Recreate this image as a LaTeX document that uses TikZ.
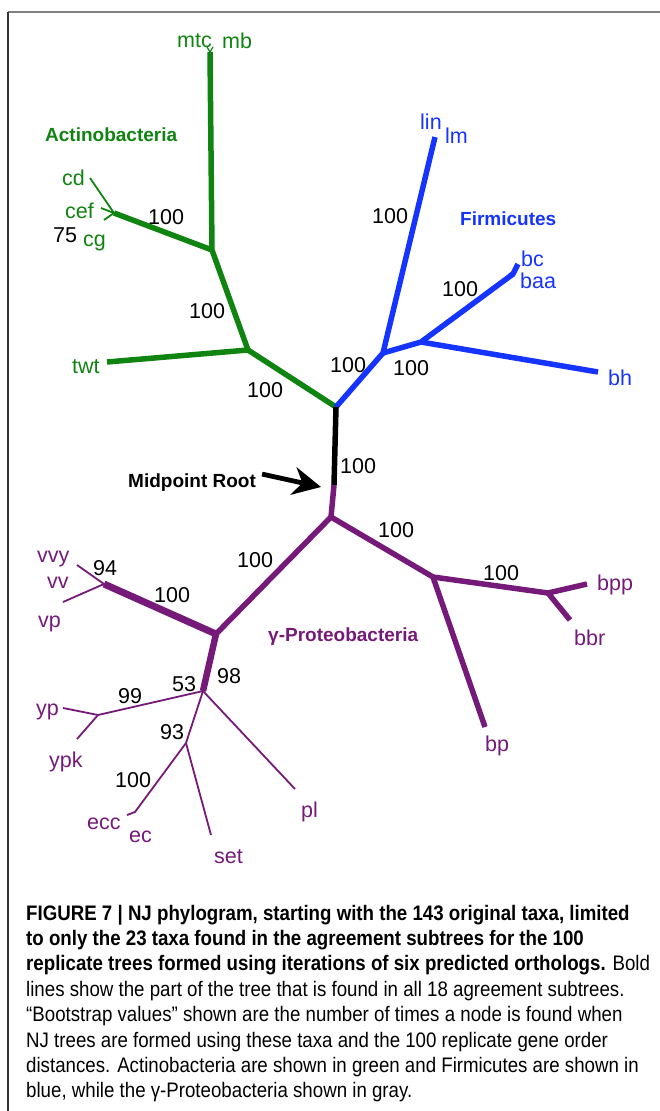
\documentclass[tikz,border=0pt]{standalone}
\usepackage{fontspec}
\setmainfont{Liberation Sans}
\newfontfamily\capfont[FakeStretch=0.89]{Liberation Sans}
\usetikzlibrary{arrows.meta}
\definecolor{actgreen}{RGB}{16,132,16}
\definecolor{firmblue}{RGB}{22,52,255}
\definecolor{protpurple}{RGB}{118,26,122}
\definecolor{framegray}{RGB}{128,128,128}
\tikzset{
  thickbr/.style={line width=5.5pt, line join=round},
  thinbr/.style={line width=1.8pt, line join=round},
  taxon/.style={anchor=base west, inner sep=0pt, font=\fontsize{21.5}{24}\selectfont},
  boot/.style={anchor=base west, inner sep=0pt, text=black, font=\fontsize{21.5}{24}\selectfont},
  group/.style={anchor=base west, inner sep=0pt, font=\fontsize{19}{22}\selectfont\bfseries},
  capline/.style={anchor=base west, inner sep=0pt, font=\capfont\fontsize{21}{25}\selectfont}
}
\begin{document}
\begin{tikzpicture}[x=1pt,y=-1pt]
\useasboundingbox (0,0) rectangle (660,1111);
% frame
\draw[framegray, line width=1.6pt] (8,12) coordinate (ftl) -- (660,12) coordinate (ftr);
\draw[black!80, line width=1.2pt] (ftl) -- (8,1111) coordinate (fbl);

% coordinates
\coordinate (root) at (336,407);
\coordinate (rb) at (334,485);
\coordinate (F) at (331,517);
\coordinate (A) at (248,350);
\coordinate (twt) at (107,362);
\coordinate (B) at (212,250);
\coordinate (mtcE) at (210,52);
\coordinate (mtcT) at (207,47);
\coordinate (mbT) at (213,47);
\coordinate (C) at (114,213);
\coordinate (cdT) at (90,178);
\coordinate (cefT) at (101,208);
\coordinate (cgT) at (104,220);
\coordinate (D) at (383,353);
\coordinate (linT) at (435,137);
\coordinate (E) at (421,342);
\coordinate (bcF) at (513,274);
\coordinate (bcT) at (518,264);
\coordinate (baaT) at (510,276);
\coordinate (bhT) at (598,372);
\coordinate (G) at (216,634);
\coordinate (H) at (104,584);
\coordinate (vvyT) at (77,565);
\coordinate (vpT) at (63,602);
\coordinate (I) at (203,691);
\coordinate (J) at (98,715);
\coordinate (ypT) at (63,708);
\coordinate (ypkT) at (77,739);
\coordinate (K) at (186,743);
\coordinate (eccF) at (135,812);
\coordinate (eccT) at (127,815);
\coordinate (setT) at (211,835);
\coordinate (plT) at (295,789);
\coordinate (L) at (433,577);
\coordinate (bpT) at (485,727);
\coordinate (M) at (548,593);
\coordinate (bppT) at (587,584);
\coordinate (bbrT) at (570,620);

% Actinobacteria (green)
\draw[actgreen, thickbr] (root) -- (A) -- (twt);
\draw[actgreen, thickbr] (A) -- (B) -- (mtcE);
\draw[actgreen, thickbr] (B) -- (C);
\draw[actgreen, thinbr] (C) -- (cdT);
\draw[actgreen, thinbr] (C) -- (cefT);
\draw[actgreen, thinbr] (C) -- (cgT);
\draw[actgreen, line width=1.2pt] (mtcE) -- (mtcT);
\draw[actgreen, line width=1.2pt] (mtcE) -- (mbT);

% Firmicutes (blue)
\draw[firmblue, thickbr] (root) -- (D) -- (linT);
\draw[firmblue, thickbr] (D) -- (E) -- (bcF) -- (bcT);
\draw[firmblue, thickbr] (bcF) -- (baaT);
\draw[firmblue, thickbr] (E) -- (bhT);

% root segment
\draw[black, thickbr] (root) -- (rb);

% Proteobacteria (purple)
\draw[protpurple, thickbr] (rb) -- (F) -- (G);
\draw[protpurple, line width=7pt, line join=round] (G) -- (H);
\draw[protpurple, line width=6.5pt, line join=round] (G) -- (I);
\draw[protpurple, thinbr] (H) -- (vvyT);
\draw[protpurple, thinbr] (H) -- (vpT);
\draw[protpurple, thinbr] (I) -- (J) -- (ypT);
\draw[protpurple, thinbr] (J) -- (ypkT);
\draw[protpurple, thinbr] (I) -- (K) -- (eccF) -- (eccT);
\draw[protpurple, thinbr] (K) -- (setT);
\draw[protpurple, thinbr] (I) -- (plT);
\draw[protpurple, thickbr] (F) -- (L) -- (bpT);
\draw[protpurple, thickbr] (L) -- (M) -- (bppT);
\draw[protpurple, thickbr] (M) -- (bbrT);

% Midpoint root arrow
\node[group, text=black] (mroot) at (128,487) {Midpoint Root};
\coordinate (arrE) at (321,487);
\draw[black, line width=4.8pt, -{Stealth[length=28pt,width=28pt,inset=9pt]}] (mroot.east) ++(6,-8) coordinate (arrS) -- (arrE);

% group labels
\node[group, text=actgreen] (actlab) at (45,141) {Actinobacteria};
\node[group, text=firmblue] (firmlab) at (460,225) {Firmicutes};
\node[group, text=protpurple] (protlab) at (268,641) {γ-Proteobacteria};

% taxa
\node[taxon, text=actgreen] (lmtc) at (177,47) {mtc};
\node[taxon, text=actgreen] (lmb) at (222,48) {mb};
\node[taxon, text=actgreen] (lcd) at (62,185) {cd};
\node[taxon, text=actgreen] (lcef) at (65,218) {cef};
\node[taxon, text=actgreen] (lcg) at (83,246) {cg};
\node[taxon, text=actgreen] (ltwt) at (72,373) {twt};
\node[taxon, text=firmblue] (llin) at (420,129) {lin};
\node[taxon, text=firmblue] (llm) at (445,143) {lm};
\node[taxon, text=firmblue] (lbc) at (521,266) {bc};
\node[taxon, text=firmblue] (lbaa) at (520,288) {baa};
\node[taxon, text=firmblue] (lbh) at (608,385) {bh};
\node[taxon, text=protpurple] (lvvy) at (37,562) {vvy};
\node[taxon, text=protpurple] (lvv) at (47,588) {vv};
\node[taxon, text=protpurple] (lvp) at (38,627) {vp};
\node[taxon, text=protpurple] (lyp) at (36,715) {yp};
\node[taxon, text=protpurple] (lypk) at (49,767) {ypk};
\node[taxon, text=protpurple] (lecc) at (87,829) {ecc};
\node[taxon, text=protpurple] (lec) at (129,842) {ec};
\node[taxon, text=protpurple] (lset) at (214,863) {set};
\node[taxon, text=protpurple] (lpl) at (301,817) {pl};
\node[taxon, text=protpurple] (lbp) at (485,751) {bp};
\node[taxon, text=protpurple] (lbpp) at (597,590) {bpp};
\node[taxon, text=protpurple] (lbbr) at (574,645) {bbr};

% bootstrap values
\node[boot] (b75) at (53,242) {75};
\node[boot] (bC) at (148,224) {100};
\node[boot] (bB) at (189,318) {100};
\node[boot] (bA) at (247,397) {100};
\node[boot] (bL) at (372,223) {100};
\node[boot] (bE) at (442,296) {100};
\node[boot] (bD) at (330,372) {100};
\node[boot] (bDE) at (393,375) {100};
\node[boot] (broot) at (340,473) {100};
\node[boot] (bFL) at (378,537) {100};
\node[boot] (bLM) at (483,580) {100};
\node[boot] (bFG) at (237,567) {100};
\node[boot] (bGH) at (154,602) {100};
\node[boot] (b94) at (93,575) {94};
\node[boot] (b98) at (217,683) {98};
\node[boot] (b53) at (172,691) {53};
\node[boot] (b99) at (118,703) {99};
\node[boot] (b93) at (160,739) {93};
\node[boot] (bK) at (115,787) {100};

% caption
\node[capline] (cap1) at (26,920) {\bfseries FIGURE 7 | NJ phylogram, starting with the 143 original taxa, limited};
\node[capline] (cap2) at (26,945.4) {\bfseries to only the 23 taxa found in the agreement subtrees for the 100};
\node[capline] (cap3) at (26,970.8) {\textbf{replicate trees formed using iterations of six predicted orthologs.} Bold};
\node[capline] (cap4) at (26,996.2) {lines show the part of the tree that is found in all 18 agreement subtrees.};
\node[capline] (cap5) at (26,1021.6) {“Bootstrap values” shown are the number of times a node is found when};
\node[capline] (cap6) at (26,1047) {NJ trees are formed using these taxa and the 100 replicate gene order};
\node[capline] (cap7) at (26,1072.4) {distances. Actinobacteria are shown in green and Firmicutes are shown in};
\node[capline] (cap8) at (26,1097.8) {blue, while the γ-Proteobacteria shown in gray.};
\end{tikzpicture}
\end{document}
